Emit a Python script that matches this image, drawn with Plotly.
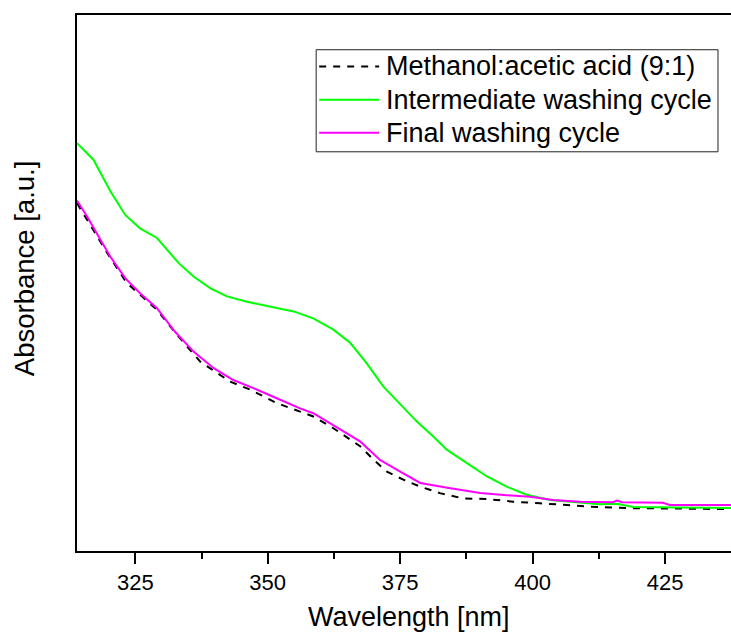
import plotly.graph_objects as go

# UV-Vis spectra of the washing solutions (arbitrary absorbance units)
wl_solvent = [314.0, 319.7, 323.4, 329.1, 332.9, 337.3, 342.9, 346.7, 351.7, 355.5,
              358.6, 362.4, 367.5, 370.0, 372.5, 375.6, 378.8, 382.5, 386.9, 391.4,
              396.4, 401.4, 406.5, 412.2, 418.4, 428.0, 439.2]
abs_solvent = [0.649, 0.556, 0.500, 0.450, 0.403, 0.353, 0.316, 0.301, 0.276, 0.263,
               0.251, 0.229, 0.195, 0.170, 0.148, 0.133, 0.120, 0.108, 0.098, 0.097,
               0.092, 0.089, 0.086, 0.082, 0.080, 0.079, 0.078]

wl_intermediate = [314.0, 317.1, 320.3, 323.1, 325.9, 329.1, 333.2, 336.0, 339.2, 342.3,
                   346.1, 350.5, 354.9, 358.6, 362.4, 365.6, 368.7, 371.8, 375.0, 378.2,
                   381.3, 383.8, 387.6, 391.4, 395.1, 398.9, 403.3, 409.0, 412.7, 415.9,
                   419.0, 428.0, 439.2]
abs_intermediate = [0.761, 0.730, 0.671, 0.627, 0.602, 0.584, 0.537, 0.512, 0.490, 0.475,
                    0.465, 0.456, 0.447, 0.434, 0.413, 0.388, 0.350, 0.307, 0.273, 0.241,
                    0.213, 0.189, 0.164, 0.139, 0.120, 0.105, 0.095, 0.090, 0.087, 0.088,
                    0.082, 0.081, 0.080]

wl_final = [314.0, 315.9, 318.4, 320.3, 323.1, 325.9, 329.1, 332.5, 336.0, 339.8,
            343.5, 347.3, 351.7, 356.1, 358.6, 361.2, 364.3, 367.5, 371.2, 375.0,
            378.8, 383.9, 390.1, 395.1, 399.5, 403.9, 409.0, 415.2, 415.9, 416.9,
            424.6, 425.9, 439.2]
abs_final = [0.654, 0.624, 0.581, 0.549, 0.509, 0.481, 0.453, 0.409, 0.372, 0.341,
             0.319, 0.304, 0.285, 0.266, 0.257, 0.241, 0.223, 0.204, 0.170, 0.148,
             0.127, 0.118, 0.108, 0.104, 0.101, 0.095, 0.092, 0.091, 0.094, 0.091,
             0.090, 0.086, 0.086]

series_names = ["Methanol:acetic acid (9:1)",
                "Intermediate washing cycle",
                "Final washing cycle"]
series_colors = ["#000000", "#00ff00", "#ff00ff"]
series_dash = ["7px,7px", "solid", "solid"]

FONT = "Liberation Sans, Arial, sans-serif"

fig = go.Figure()
for wl, ab, name, color, dash in zip(
        [wl_solvent, wl_intermediate, wl_final],
        [abs_solvent, abs_intermediate, abs_final],
        series_names, series_colors, series_dash):
    fig.add_trace(go.Scatter(x=wl, y=ab, mode="lines", name=name, showlegend=False,
                             line=dict(color=color, width=2, dash=dash)))

# boxed legend drawn in paper coordinates
box = dict(x0=0.3657, x1=0.9801, y0=0.7448, y1=0.9352)
fig.add_shape(type="rect", xref="paper", yref="paper", **box,
              line=dict(color="#222222", width=1), fillcolor="white", layer="above")
row_y = [0.9041, 0.8419, 0.7803]
for y, name, color, dash in zip(row_y, series_names, series_colors, series_dash):
    fig.add_shape(type="line", xref="paper", yref="paper", x0=0.3703, x1=0.4620,
                  y0=y, y1=y, line=dict(color=color, width=2, dash=dash), layer="above")
    fig.add_annotation(xref="paper", yref="paper", x=0.4695, y=y, text=name,
                       showarrow=False, xanchor="left", yanchor="middle",
                       font=dict(family=FONT, size=27, color="#000000"))

# axis titles
fig.add_annotation(xref="paper", yref="paper", x=0.507, y=-0.124, text="Wavelength [nm]",
                   showarrow=False, xanchor="center", yanchor="middle",
                   font=dict(family=FONT, size=27, color="#000000"))
fig.add_annotation(xref="paper", yref="paper", x=-0.08, y=0.527, text="Absorbance [a.u.]",
                   showarrow=False, textangle=-90, xanchor="center", yanchor="middle",
                   font=dict(family=FONT, size=27.5, color="#000000"))

fig.update_layout(
    width=731, height=635,
    margin=dict(l=77, r=0, t=15, b=84),
    paper_bgcolor="white", plot_bgcolor="white",
    xaxis=dict(range=[314, 437.45], showgrid=False, zeroline=False,
               showline=True, linecolor="black", linewidth=2, mirror=True,
               ticks="outside", ticklen=11, tickwidth=2, tickcolor="black",
               tick0=325, dtick=25,
               minor=dict(ticks="outside", ticklen=6, tickwidth=2, tickcolor="black",
                          dtick=12.5, tick0=312.5),
               tickfont=dict(family=FONT, size=22, color="black")),
    yaxis=dict(range=[0, 1], showgrid=False, zeroline=False,
               showline=True, linecolor="black", linewidth=2,
               ticks="", showticklabels=False),
)

fig.write_html("out.html")
